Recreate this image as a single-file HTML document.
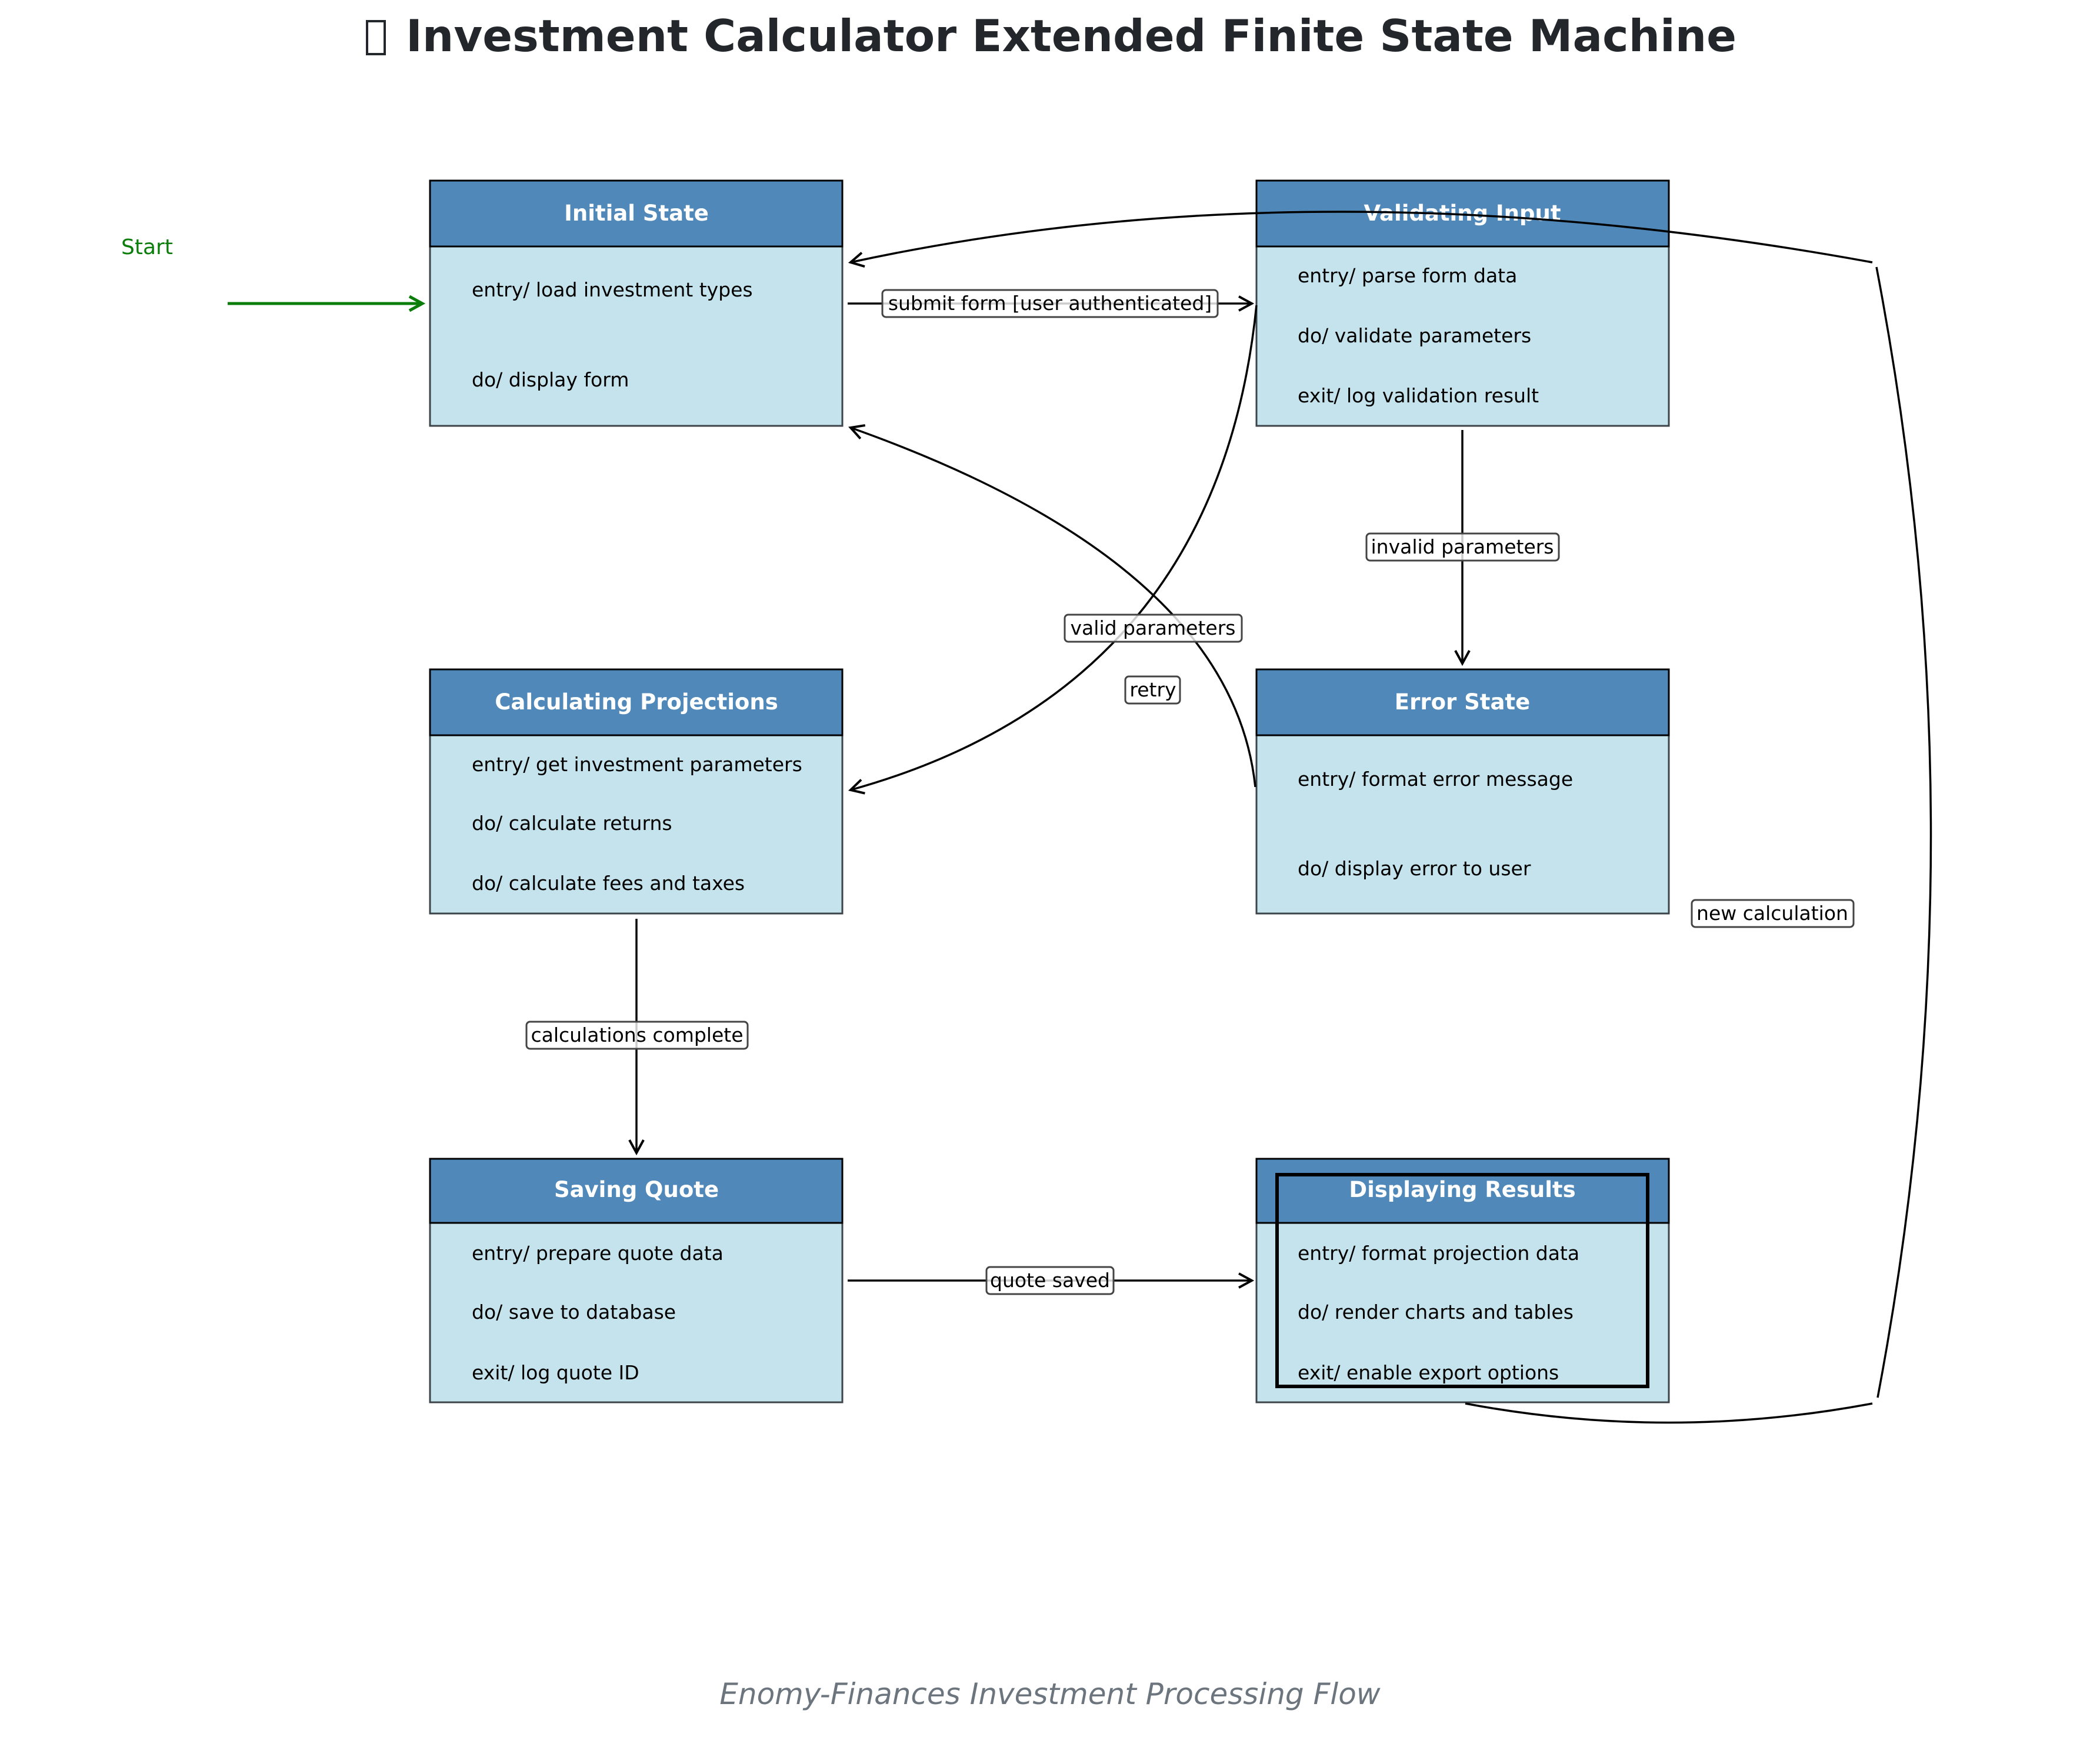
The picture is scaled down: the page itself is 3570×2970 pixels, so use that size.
<!DOCTYPE html>
<html><head><meta charset="utf-8"><style>
html,body{margin:0;padding:0;background:#fff;}
svg{display:block;}
text{font-family:"DejaVu Sans","Liberation Sans",sans-serif;}
</style></head><body>
<svg width="3570" height="2970" viewBox="0 0 3570 2970" xmlns="http://www.w3.org/2000/svg">
<defs>
<marker id="ah" markerWidth="40" markerHeight="40" refX="30" refY="20" orient="auto" markerUnits="userSpaceOnUse">
<path d="M8,8 L30,20 L8,32" fill="none" stroke="#000" stroke-width="4"/>
</marker>
<marker id="ahg" markerWidth="40" markerHeight="40" refX="30" refY="20" orient="auto" markerUnits="userSpaceOnUse">
<path d="M8,8 L30,20 L8,32" fill="none" stroke="#0a7d0a" stroke-width="5"/>
</marker>
</defs>

<!-- Title -->
<rect x="624" y="36" width="30" height="56" fill="none" stroke="#23272b" stroke-width="4"/>
<text x="690" y="87" font-size="75" font-weight="bold" fill="#23272b" textLength="2262" lengthAdjust="spacingAndGlyphs">Investment Calculator Extended Finite State Machine</text>

<!-- Boxes -->
<g stroke-width="3">
<rect x="731" y="419" width="701" height="305" fill="#c5e3ec" stroke="#3d4449"/>
<rect x="731" y="307" width="701" height="112" fill="#5089b9" stroke="#000"/>
<rect x="2136" y="419" width="701" height="305" fill="#c5e3ec" stroke="#3d4449"/>
<rect x="2136" y="307" width="701" height="112" fill="#5089b9" stroke="#000"/>
<rect x="731" y="1250" width="701" height="303" fill="#c5e3ec" stroke="#3d4449"/>
<rect x="731" y="1138" width="701" height="112" fill="#5089b9" stroke="#000"/>
<rect x="2136" y="1250" width="701" height="303" fill="#c5e3ec" stroke="#3d4449"/>
<rect x="2136" y="1138" width="701" height="112" fill="#5089b9" stroke="#000"/>
<rect x="731" y="2079" width="701" height="305" fill="#c5e3ec" stroke="#3d4449"/>
<rect x="731" y="1970" width="701" height="109" fill="#5089b9" stroke="#000"/>
<rect x="2136" y="2079" width="701" height="305" fill="#c5e3ec" stroke="#3d4449"/>
<rect x="2136" y="1970" width="701" height="109" fill="#5089b9" stroke="#000"/>
</g>
<rect x="2171" y="1997" width="630" height="360" fill="none" stroke="#000" stroke-width="6"/>

<!-- Headers -->
<g font-size="37" font-weight="bold" fill="#fff" text-anchor="middle">
<text x="1082" y="375">Initial State</text>
<text x="2486" y="375">Validating Input</text>
<text x="1082" y="1206">Calculating Projections</text>
<text x="2486" y="1206">Error State</text>
<text x="1082" y="2035">Saving Quote</text>
<text x="2486" y="2035">Displaying Results</text>
</g>

<!-- Body text -->
<g font-size="33" fill="#000">
<text x="802" y="504">entry/ load investment types</text>
<text x="802" y="657">do/ display form</text>
<text x="2206" y="480">entry/ parse form data</text>
<text x="2206" y="582">do/ validate parameters</text>
<text x="2206" y="684">exit/ log validation result</text>
<text x="802" y="1311">entry/ get investment parameters</text>
<text x="802" y="1411">do/ calculate returns</text>
<text x="802" y="1513">do/ calculate fees and taxes</text>
<text x="2206" y="1336">entry/ format error message</text>
<text x="2206" y="1488">do/ display error to user</text>
<text x="802" y="2142">entry/ prepare quote data</text>
<text x="802" y="2242">do/ save to database</text>
<text x="802" y="2345">exit/ log quote ID</text>
<text x="2206" y="2142">entry/ format projection data</text>
<text x="2206" y="2242">do/ render charts and tables</text>
<text x="2206" y="2345">exit/ enable export options</text>
</g>

<!-- Start -->
<text x="250" y="432" font-size="36" fill="#0a7d0a" text-anchor="middle">Start</text>
<line x1="387" y1="516" x2="718" y2="516" stroke="#0a7d0a" stroke-width="5" marker-end="url(#ahg)"/>

<!-- Connectors -->
<g fill="none" stroke="#000" stroke-width="3.5">
<line x1="1441" y1="516" x2="2128" y2="516" marker-end="url(#ah)"/>
<line x1="2486" y1="731" x2="2486" y2="1128" marker-end="url(#ah)"/>
<line x1="1082" y1="1562" x2="1082" y2="1960" marker-end="url(#ah)"/>
<line x1="1441" y1="2177" x2="2128" y2="2177" marker-end="url(#ah)"/>
<path d="M2136,519 Q2070,1170 1446,1343" marker-end="url(#ah)"/>
<path d="M2134,1338 Q2094,957 1446,727" marker-end="url(#ah)"/>
<path d="M2491,2386 Q2837,2451 3183,2386"/>
<path d="M3192,2376 Q3374,1416 3190,454"/>
<path d="M3183,446 Q2241,274 1446,446" marker-end="url(#ah)"/>
</g>

<!-- Labels -->
<g font-size="33" fill="#000" text-anchor="middle">
<rect x="1500" y="493" width="570" height="46" rx="6" fill="#fff" fill-opacity="0.8" stroke="#444" stroke-width="3"/>
<text x="1785" y="527">submit form [user authenticated]</text>
<rect x="2323" y="907" width="327" height="46" rx="6" fill="#fff" fill-opacity="0.8" stroke="#444" stroke-width="3"/>
<text x="2486" y="941">invalid parameters</text>
<rect x="1810" y="1045" width="301" height="46" rx="6" fill="#fff" fill-opacity="0.8" stroke="#444" stroke-width="3"/>
<text x="1960" y="1079">valid parameters</text>
<rect x="1913" y="1150" width="93" height="46" rx="6" fill="#fff" fill-opacity="0.8" stroke="#444" stroke-width="3"/>
<text x="1960" y="1184">retry</text>
<rect x="895" y="1737" width="376" height="46" rx="6" fill="#fff" fill-opacity="0.8" stroke="#444" stroke-width="3"/>
<text x="1083" y="1771">calculations complete</text>
<rect x="1677" y="2154" width="216" height="46" rx="6" fill="#fff" fill-opacity="0.8" stroke="#444" stroke-width="3"/>
<text x="1785" y="2188">quote saved</text>
<rect x="2876" y="1530" width="275" height="46" rx="6" fill="#fff" fill-opacity="0.8" stroke="#444" stroke-width="3"/>
<text x="3013" y="1564">new calculation</text>
</g>

<!-- Subtitle -->
<text x="1785" y="2897" font-size="50" font-style="italic" fill="#6c757d" text-anchor="middle">Enomy-Finances Investment Processing Flow</text>
</svg>
</body></html>
